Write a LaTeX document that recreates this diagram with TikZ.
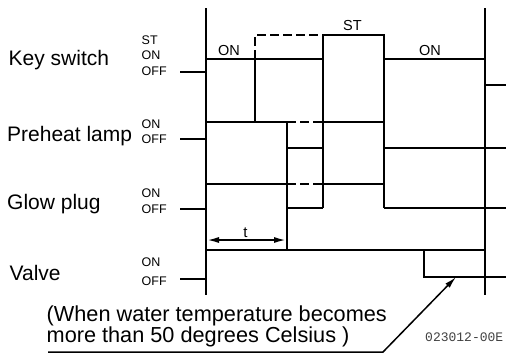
\documentclass[tikz,border=0pt]{standalone}
\usepackage{fontspec}
\setmainfont{Liberation Sans}
\setmonofont{Liberation Mono}
\usetikzlibrary{arrows.meta}
\begin{document}
\begin{tikzpicture}[x=1pt,y=-1pt,
  >={Latex[length=12pt,width=6pt]},
  wave/.style={line width=1.8pt},
  alt/.style={line width=1.8pt, dash pattern=on 9pt off 4pt},
  biglabel/.style={anchor=base west, inner sep=0, font=\fontsize{21}{22}\selectfont},
  lvl/.style={anchor=base west, inner sep=0, font=\fontsize{12.5}{13}\selectfont},
  toplbl/.style={anchor=base, inner sep=0, font=\fontsize{14.5}{15}\selectfont},
  note/.style={anchor=base west, inner sep=0, align=left, font=\fontsize{21.7}{19.5}\selectfont}
]
\useasboundingbox (0,0) rectangle (506,354);

% signal names
\node[biglabel] (ks) at (8.5,65.5) {Key switch};
\node[biglabel] (pl) at (7,141) {Preheat lamp};
\node[biglabel] (gp) at (7,209) {Glow plug};
\node[biglabel] (va) at (9.5,280) {Valve};

% level labels
\node[lvl] (ksst) at (141.5,44) {ST};
\node[lvl] (kson) at (141.5,59.7) {ON};
\node[lvl] (ksoff) at (141.5,75.3) {OFF};
\node[lvl] (plon) at (141.5,128.3) {ON};
\node[lvl] (ploff) at (141.5,143.3) {OFF};
\node[lvl] (gpon) at (141.5,197.3) {ON};
\node[lvl] (gpoff) at (141.5,213.3) {OFF};
\node[lvl] (vaon) at (141.5,266.7) {ON};
\node[lvl] (vaoff) at (141.5,285) {OFF};

% top labels
\node[toplbl] (on1) at (229,55) {ON};
\node[toplbl] (st1) at (352.5,30) {ST};
\node[toplbl] (on2) at (430,55) {ON};

% time reference lines
\draw[wave] (206,8) -- (206,295);
\draw[wave] (485,8) -- (485,295);

% key switch
\draw[wave] (180,72) -- (206,72);
\draw[wave] (206,59) -- (323,59);
\draw[alt] (255,59) -- (255,35) -- (323,35);
\draw[wave] (255,59) -- (255,122);
\draw[wave] (323,208) -- (323,35) -- (384,35) -- (384,208);
\draw[wave] (384,59) -- (485,59);
\draw[wave] (485,85) -- (506,85);

% preheat lamp
\draw[wave] (180,139) -- (206,139);
\draw[wave] (206,122) -- (287,122);
\draw[alt] (287,122) -- (323,122);
\draw[wave] (323,122) -- (384,122);
\draw[wave] (287,122) -- (287,250);
\draw[wave] (287,148) -- (323,148);
\draw[wave] (384,148) -- (506,148);

% glow plug
\draw[wave] (180,209) -- (206,209);
\draw[wave] (206,184) -- (287,184);
\draw[alt] (287,184) -- (323,184);
\draw[wave] (323,184) -- (384,184);
\draw[wave] (287,208) -- (323,208);
\draw[wave] (384,208) -- (506,208);

% valve
\draw[wave] (180,279) -- (206,279);
\draw[wave] (206,250) -- (485,250);
\draw[wave] (424,250) -- (424,277) -- (506,277);

% t interval
\coordinate (ta) at (207,240);
\coordinate (tb) at (286,240);
\draw[wave, <->] (ta) -- (tb);
\node[anchor=base, inner sep=0, font=\fontsize{15}{16}\selectfont] (tl) at (245.5,237) {t};

% note with leader
\node[note] (n1) at (46.5,342.5) {(When water temperature becomes\\more than 50 degrees Celsius )};
\coordinate (ul0) at (48,352);
\coordinate (ul1) at (383,352);
\coordinate (arr) at (456,277);
\draw[line width=1.5pt, ->] (ul0) -- (ul1) -- (arr);

% figure code
\node[anchor=base west, inner sep=0, font=\ttfamily\fontsize{13}{14}\selectfont, text=black!75] (code) at (425,341.5) {023012-00E};
\end{tikzpicture}
\end{document}
